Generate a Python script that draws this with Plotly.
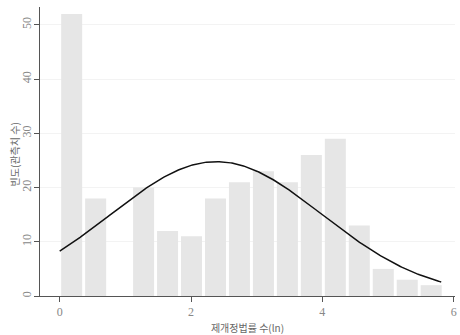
import numpy as np
import plotly.graph_objects as go

# Histogram of log-transformed counts of enacted/amended laws
bin_start = 0.0
bin_width = 0.365
counts = [52, 18, 0, 20, 12, 11, 18, 21, 23, 21, 26, 29, 13, 5, 3, 2]

# Fitted normal density parameters (scaled to frequency)
fit_mean = 2.385
fit_sd = 1.61
fit_n = sum(counts)
curve_min = 0.0
curve_max = 5.81

y_ticks = [0, 10, 20, 30, 40, 50]
x_ticks = [0, 2, 4, 6]

centers = [bin_start + (i + 0.5) * bin_width for i in range(len(counts))]

xs = np.linspace(curve_min, curve_max, 300)
dens = fit_n * bin_width / (fit_sd * np.sqrt(2 * np.pi)) * np.exp(-0.5 * ((xs - fit_mean) / fit_sd) ** 2)

fig = go.Figure()
fig.add_trace(go.Bar(
    x=centers, y=counts, width=bin_width - 0.045,
    marker=dict(color="#e6e6e6", line=dict(width=0)),
    hoverinfo="skip",
))
fig.add_trace(go.Scatter(
    x=xs, y=dens, mode="lines",
    line=dict(color="#111111", width=1.5),
    hoverinfo="skip",
))

num_font = "'Liberation Serif', 'DejaVu Serif', serif"
kr_font = "'Noto Sans CJK KR', sans-serif"

fig.update_layout(
    width=460, height=335,
    margin=dict(l=40, r=3, t=7, b=35),
    paper_bgcolor="white", plot_bgcolor="white",
    showlegend=False,
    font=dict(family=num_font, color="#777777", size=12),
    xaxis=dict(
        range=[-0.3, 6.02], tickvals=x_ticks,
        showgrid=False, zeroline=False,
        showline=True, linecolor="#555555", linewidth=1,
        ticks="outside", ticklen=5, tickcolor="#555555",
        tickfont=dict(size=12, color="#888888", family=num_font),
        title=dict(text="제개정법률 수(ln)", font=dict(size=10, color="#666666",
                   family=kr_font), standoff=6),
    ),
    yaxis=dict(
        range=[0, 53.3], tickvals=y_ticks, tickangle=-90,
        showgrid=True, gridcolor="#f3f3f3", gridwidth=1,
        zeroline=False,
        showline=True, linecolor="#555555", linewidth=1,
        ticks="outside", ticklen=5, tickcolor="#555555",
        ticklabelstandoff=-2,
        tickfont=dict(size=12, color="#888888", family=num_font),
    ),
    annotations=[dict(
        text="빈도(관측치 수)", xref="paper", yref="paper",
        x=0, y=0.49, xshift=-26, textangle=-90,
        xanchor="center", yanchor="middle", showarrow=False,
        font=dict(size=10, color="#666666", family=kr_font),
    )],
)

fig.write_html("out.html")
